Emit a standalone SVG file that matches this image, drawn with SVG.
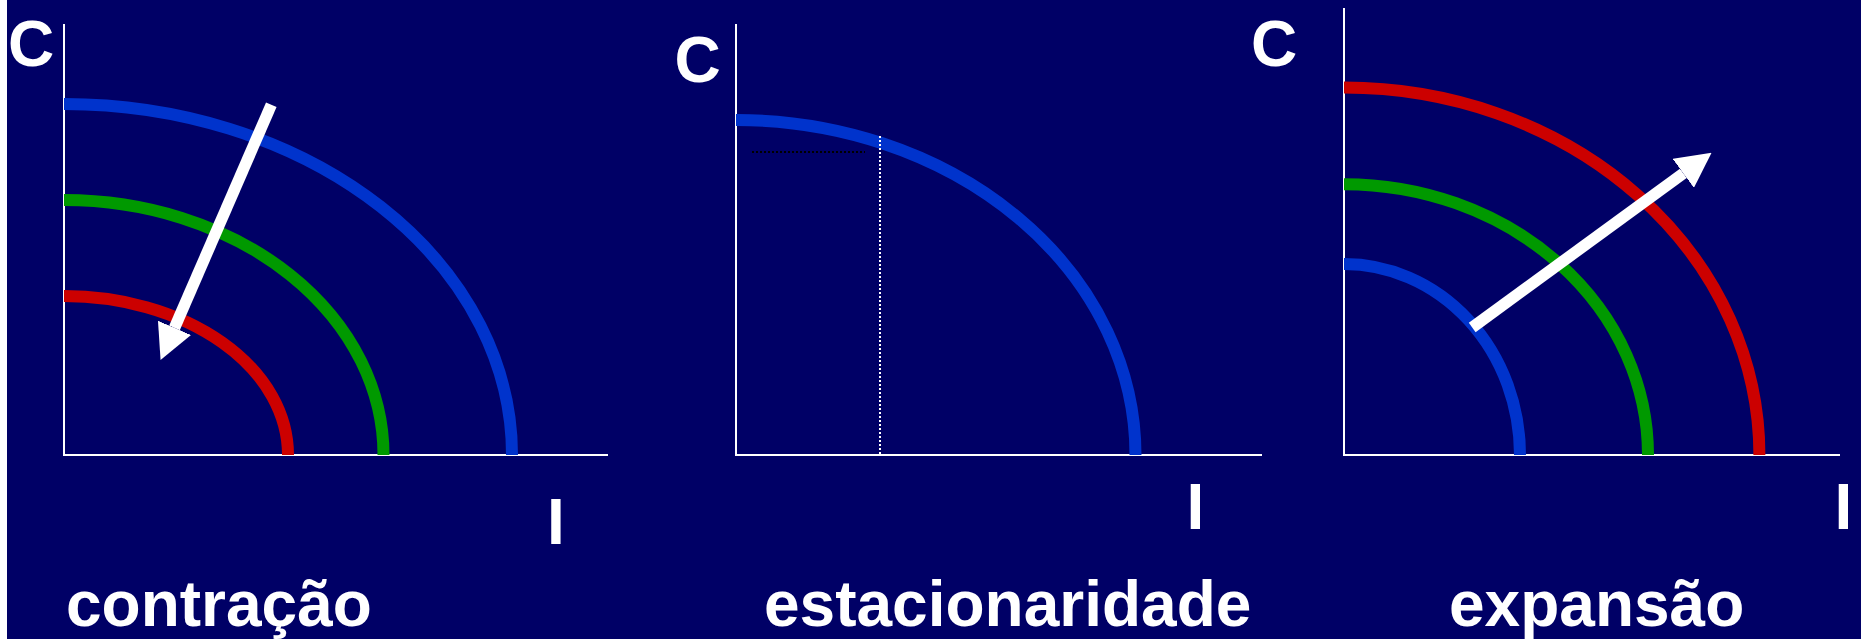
<svg xmlns="http://www.w3.org/2000/svg" width="1861" height="639" viewBox="0 0 1861 639">
  <style>
    .lbl { font-family: "Liberation Sans", Arial, sans-serif; font-weight: bold; font-size: 64px; fill: #ffffff; }
    .axis { stroke: #ffffff; stroke-width: 2; fill: none; }
    .curve { fill: none; stroke-width: 12; stroke-linecap: butt; }
    .blue { stroke: #0033cc; }
    .green { stroke: #009900; }
    .red { stroke: #cc0000; }
    .arrow { stroke: #ffffff; stroke-width: 11.5; fill: none; stroke-linecap: butt; }
  </style>
  <defs>
    <marker id="head" viewBox="0 0 35 36" refX="0" refY="18" markerWidth="35" markerHeight="36" markerUnits="userSpaceOnUse" orient="auto">
      <path d="M0,0 L35,18 L0,36 Z" fill="#ffffff"/>
    </marker>
  </defs>
  <rect x="0" y="0" width="1861" height="639" fill="#000066"/>
  <rect x="0" y="0" width="7" height="639" fill="#ffffff"/>

  <g id="panel-contracao">
    <path class="axis" d="M64,24 V455 H608"/>
    <path class="curve blue" d="M64,104 A448,351 0 0 1 512,455"/>
    <path class="curve green" d="M64,200 A319.5,255 0 0 1 383.5,455"/>
    <path class="curve red" d="M64,296 A224,159 0 0 1 288,455"/>
    <text class="lbl" x="8" y="66">C</text>
    <text class="lbl" x="547" y="544">I</text>
    <text class="lbl" x="66" y="626">contração</text>
  </g>

  <g id="panel-estacionaridade">
    <path class="axis" d="M736,24 V455 H1262"/>
    <path class="curve blue" d="M736,120 A399.5,335 0 0 1 1135.5,455"/>
    <line x1="880" y1="136" x2="880" y2="455" stroke="#ffffff" stroke-width="2" stroke-dasharray="2,2"/>
    <line x1="752" y1="152" x2="865" y2="152" stroke="#000000" stroke-width="2" stroke-dasharray="2,2"/>
    <text class="lbl" x="674.5" y="82">C</text>
    <text class="lbl" x="1186.5" y="529">I</text>
    <text class="lbl" x="764" y="626">estacionaridade</text>
  </g>

  <g id="panel-expansao">
    <path class="axis" d="M1344,8 V455 H1840"/>
    <path class="curve red" d="M1344,87.6 A415.4,367.4 0 0 1 1759.4,455"/>
    <path class="curve green" d="M1344,184.2 A304,270.8 0 0 1 1648,455"/>
    <path class="curve blue" d="M1344,264 A176,191 0 0 1 1520,455"/>
    <text class="lbl" x="1251" y="66">C</text>
    <text class="lbl" x="1834.5" y="529">I</text>
    <text class="lbl" x="1449" y="626">expansão</text>
  </g>

  <g id="connectors">
    <line class="arrow" x1="271.3" y1="104.7" x2="174.5" y2="327.9" marker-end="url(#head)"/>
    <line class="arrow" x1="1472.2" y1="327.5" x2="1683.3" y2="173.3" marker-end="url(#head)"/>
  </g>
</svg>
